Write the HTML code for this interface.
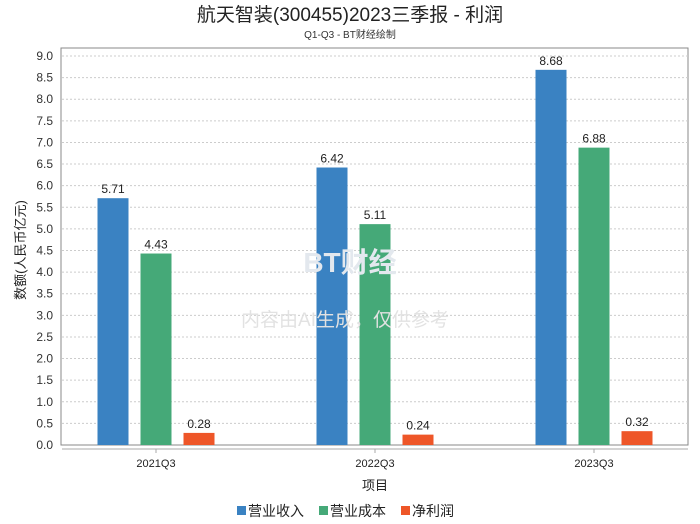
<!DOCTYPE html>
<html><head><meta charset="utf-8"><style>
body{margin:0;background:#fff;}
svg{display:block;font-family:"Liberation Sans","Noto Sans CJK SC",sans-serif;}
</style></head><body>
<svg id="chart" width="700" height="524">
<text x="350" y="21" text-anchor="middle" font-size="19" fill="#222">航天智装(300455)2023三季报 - 利润</text>
<text x="350" y="38" text-anchor="middle" font-size="10" fill="#333">Q1-Q3 - BT财经绘制</text>
<rect x="61" y="48" width="627" height="397" fill="none" stroke="#888"/>
<line x1="62" y1="449" x2="688" y2="449" stroke="#aaa"/>
<g id="grid"></g><g id="bars"></g>
<text x="350" y="272" text-anchor="middle" font-size="28" font-weight="bold" fill="#e3e8ee">BT财经</text>
<text x="345" y="326" text-anchor="middle" font-size="19" fill="#e2e2e2">内容由AI生成，仅供参考</text>
<text transform="translate(25,250) rotate(-90)" text-anchor="middle" font-size="13" fill="#222">数额(人民币亿元)</text>
<text x="375" y="490" text-anchor="middle" font-size="13" fill="#222">项目</text>
<g id="legend"></g>
</svg>
<script>
const categories=["2021Q3","2022Q3","2023Q3"];
const revenue=[5.71,6.42,8.68];
const cost=[4.43,5.11,6.88];
const profit=[0.28,0.24,0.32];
const yTicks=[0,0.5,1,1.5,2,2.5,3,3.5,4,4.5,5,5.5,6,6.5,7,7.5,8,8.5,9];
const seriesNames=["营业收入","营业成本","净利润"];
const colors=["#3a82c2","#45a978","#ee5628"];
const NS="http://www.w3.org/2000/svg";
function y(v){return 445-v*389/9;}
function x(i){return 156+i*219;}
function mk(t,a,p){const e=document.createElementNS(NS,t);for(const k in a)e.setAttribute(k,a[k]);p.appendChild(e);return e;}
const grid=document.getElementById('grid');
yTicks.forEach(v=>{
  if(v>0){const l=mk('line',{x1:62,x2:688,y1:y(v),y2:y(v),stroke:'#ccc','stroke-dasharray':'2,2'},grid);
  
  }
  const t=mk('text',{x:53,y:y(v)+4,'text-anchor':'end','font-size':12,fill:'#333'},grid);
  t.textContent=v.toFixed(1);
  
  
});
const bars=document.getElementById('bars');
const series=[revenue,cost,profit];
categories.forEach((c,i)=>{
  series.forEach((s,j)=>{
    const bx=x(i)+(j-1)*43-15.5;
    const r=mk('rect',{x:bx,y:y(s[i]),width:31,height:445-y(s[i]),fill:colors[j]},bars);
    
    
    const t=mk('text',{x:bx+15.5,y:y(s[i])-5,'text-anchor':'middle','font-size':12,fill:'#222'},bars);
    t.textContent=s[i].toFixed(2);
    
    
  });
  const tk=mk('line',{x1:x(i),x2:x(i),y1:449,y2:453,stroke:'#aaa'},bars);
  
  
  const t=mk('text',{x:x(i),y:467,'text-anchor':'middle','font-size':11,fill:'#222'},bars);
  t.textContent=c;
  
  
});
const lg=document.getElementById('legend');
const lx=[237,319,401];
seriesNames.forEach((n,j)=>{
  const r=mk('rect',{x:lx[j],y:506,width:9,height:9,fill:colors[j]},lg);
  
  
  const t=mk('text',{x:lx[j]+11,y:516,'font-size':14,fill:'#222'},lg);
  t.textContent=n;
  
  
});
</script>
</body></html>
